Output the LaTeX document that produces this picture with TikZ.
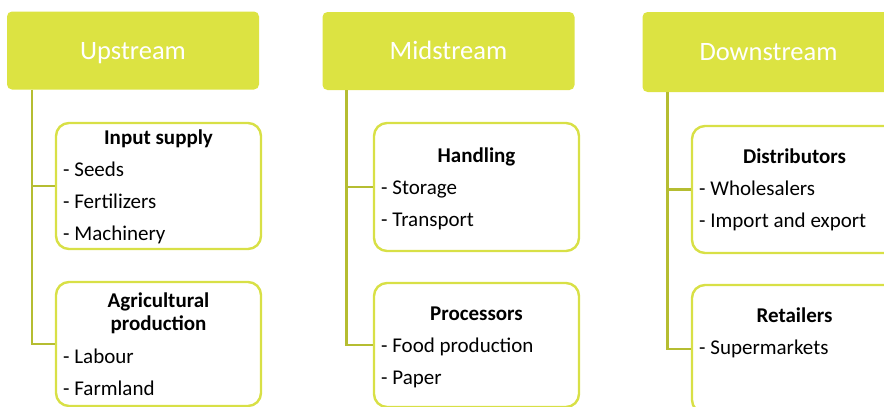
\documentclass[tikz,border=0pt]{standalone}
\usepackage{fontspec}
\setmainfont{Carlito}
\definecolor{chainlime}{RGB}{220,227,66}
\definecolor{chainedge}{RGB}{216,224,70}
\definecolor{chainolive}{RGB}{181,189,49}

\begin{document}
\begin{tikzpicture}[
  x=1pt, y=-1pt,
  stage/.style={fill=chainlime, rounded corners=5pt, minimum width=252pt, minimum height=78pt,
    inner sep=0pt, text=white, text height=17pt, text depth=0pt, font=\fontsize{26.5}{30}\selectfont},
  group/.style={draw=chainedge, line width=2.4pt, fill=white, rounded corners=13pt, minimum width=205pt, inner sep=0pt},
  heading/.style={anchor=base, inner sep=0pt, font=\fontsize{21}{24}\selectfont\bfseries},
  entry/.style={anchor=base west, inner sep=0pt, font=\fontsize{21}{24}\selectfont},
  link/.style={draw=chainolive, line width=2.4pt}
]
\useasboundingbox (0,0) rectangle (884,407);
\clip (0,0) rectangle (884,407);

% stages:
\node[stage] (up) at (133,50.5) {Upstream};
\node[stage] (mid) at (448.5,51) {Midstream};
\node[stage, minimum height=80pt] (down) at (768.5,52) {Downstream};

% boxes below each stage:
\node[group, minimum height=126pt] (input) at (158.5,186) {};
\node[group, minimum height=124pt] (farm) at (158.5,344) {};
\node[group, minimum height=128pt] (handle) at (476.5,187) {};
\node[group, minimum height=124pt] (process) at (476.5,345) {};
\node[group, minimum height=127pt] (distr) at (794.5,189.5) {};
\node[group, minimum height=128pt] (retail) at (794.5,349) {};

% stage lines:
\coordinate (up-l) at ([xshift=25pt]up.south west);
\draw[link] (up-l) |- (farm.west);
\draw[link] (up-l |- input.west) -- (input.west);
\coordinate (mid-l) at ([xshift=24pt]mid.south west);
\draw[link] (mid-l) |- (process.west);
\draw[link] (mid-l |- handle.west) -- (handle.west);
\coordinate (down-l) at ([xshift=25pt]down.south west);
\draw[link] (down-l) |- (retail.west);
\draw[link] (down-l |- distr.west) -- (distr.west);

% texts:
\node[heading] (input-h) at (158.5,144) {Input supply};
\foreach \txt [count=\i] in {Seeds, Fertilizers, Machinery}
  \node[entry] (input-\i) at (63,144+32*\i) {- \txt};
\node[heading] (farm-h1) at (158.5,307) {Agricultural};
\node[heading] (farm-h2) at (158.5,330) {production};
\foreach \txt [count=\i] in {Labour, Farmland}
  \node[entry] (farm-\i) at (63,331+32*\i) {- \txt};

\node[heading] (handle-h) at (476.5,162) {Handling};
\foreach \txt [count=\i] in {Storage, Transport}
  \node[entry] (handle-\i) at (381,162+32*\i) {- \txt};
\node[heading] (process-h) at (476.5,320) {Processors};
\foreach \txt [count=\i] in {Food production, Paper}
  \node[entry] (process-\i) at (381,320+32*\i) {- \txt};

\node[heading] (distr-h) at (794.5,163) {Distributors};
\foreach \txt [count=\i] in {Wholesalers, Import and export}
  \node[entry] (distr-\i) at (699,163+32*\i) {- \txt};
\node[heading] (retail-h) at (794.5,322) {Retailers};
\node[entry] (retail-1) at (699,354) {- Supermarkets};
\end{tikzpicture}
\end{document}
